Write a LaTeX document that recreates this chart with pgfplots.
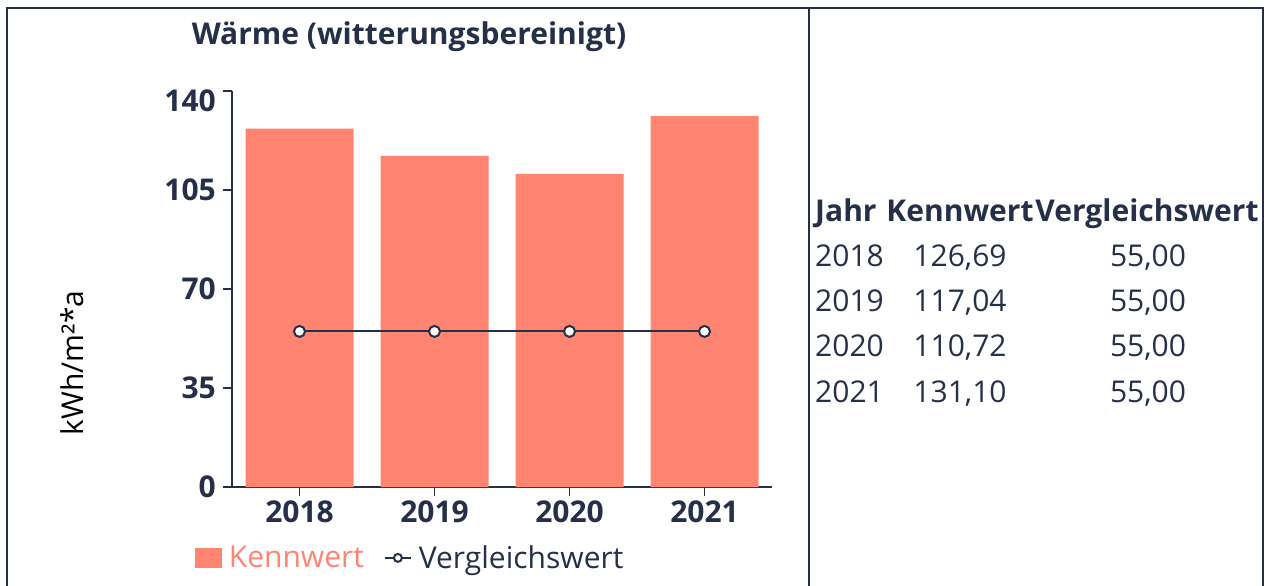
\documentclass[border=0pt]{standalone}
\usepackage{fontspec}
\setmainfont{Open Sans}
\usepackage{pgfplots}
\pgfplotsset{compat=1.18}
\definecolor{navy}{HTML}{252F48}
\definecolor{salmon}{HTML}{FF8472}
\newcommand{\fs}{\fontsize{30bp}{34bp}\selectfont}
\begin{document}
\begin{tikzpicture}
\begin{scope}[x=1bp,y=-1bp]
\path[use as bounding box] (0,0) rectangle (1267,586);
\draw[navy, line width=2bp] (7,8) -- (1263,8);
\draw[navy, line width=2bp] (7,7) -- (7,586);
\draw[navy, line width=2bp] (809,7) -- (809,586);
\draw[navy, line width=2bp] (1263,7) -- (1263,586);
\node[anchor=base, text=navy, font=\fs\bfseries, inner sep=0pt] at (409,45) {Wärme (witterungsbereinigt)};
\node[rotate=90, text=black, font=\fs, inner sep=0pt] at (72,363) {kWh/m²*a};
% table
\node[anchor=base west, text=navy, font=\fs\bfseries, inner sep=0pt] at (815,222) {Jahr};
\node[anchor=base, text=navy, font=\fs\bfseries, inner sep=0pt] at (960,222) {Kennwert};
\node[anchor=base, text=navy, font=\fs\bfseries, inner sep=0pt] at (1147,222) {Vergleichswert};
\foreach \yr/\kv/\yy in {2018/{126,69}/267, 2019/{117,04}/312, 2020/{110,72}/357, 2021/{131,10}/402}{
  \node[anchor=base west, text=navy, font=\fs, inner sep=0pt] at (815,\yy) {\yr};
  \node[anchor=base, text=navy, font=\fs, inner sep=0pt] at (960,\yy) {\kv};
  \node[anchor=base, text=navy, font=\fs, inner sep=0pt] at (1148,\yy) {55,00};
}
\end{scope}
\begin{axis}[
  at={(232bp,-487bp)}, anchor=south west,
  scale only axis, width=540bp, height=396bp,
  xmin=-0.5, xmax=3.5, ymin=0, ymax=140,
  axis x line*=bottom, axis y line*=left,
  axis line style={navy, line width=1.3bp},
  every tick/.style={navy, line width=1.3bp},
  tick align=outside, major tick length=9bp,
  xtick={0,1,2,3}, xticklabels={2018,2019,2020,2021},
  ytick={0,35,70,105},
  extra y ticks={140},
  extra y tick style={yticklabel style={yshift=-10bp}},
  /pgf/number format/assume math mode=true,
  ticklabel style={font=\fs\bfseries, text=navy},
  yticklabel style={inner sep=0pt, xshift=-7bp},
  xticklabel style={inner sep=0pt, yshift=-5bp},
  legend style={at={(0.328,-0.179)}, anchor=center, draw=none, fill=none,
    legend columns=2, font=\fs, inner sep=0pt,
    nodes={inner sep=0pt},
    /tikz/every even column/.append style={column sep=20bp},
    /tikz/every odd column/.append style={column sep=7bp}},
]
\addplot[ybar, bar width=0.8, fill=salmon, draw=none,
  legend image code/.code={\fill[salmon] (0bp,-10bp) rectangle (27bp,10bp);}]
  coordinates {(0,126.69) (1,117.04) (2,110.72) (3,131.10)};
\addlegendentry{\textcolor{salmon}{Kennwert}}
\addplot[navy, line width=2bp, mark=*, mark size=5.5bp,
  mark options={fill=white, draw=navy, line width=2bp},
  legend image code/.code={\draw[navy, line width=2bp] (0bp,0bp) -- (26bp,0bp);
    \draw[navy, fill=white, line width=2bp] (13bp,0bp) circle (4bp);}]
  coordinates {(0,55) (1,55) (2,55) (3,55)};
\addlegendentry{\textcolor{navy}{Vergleichswert}}
\end{axis}
\end{tikzpicture}
\end{document}
